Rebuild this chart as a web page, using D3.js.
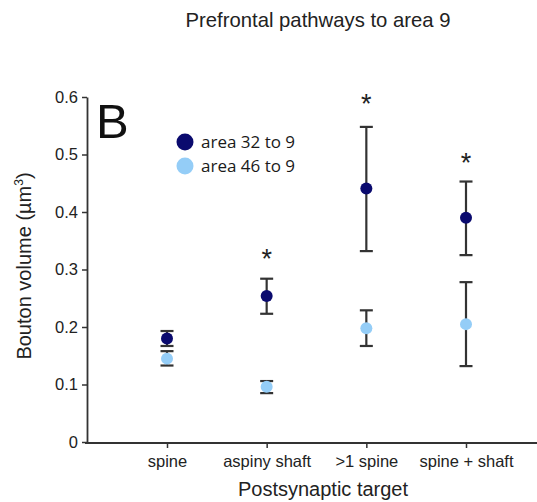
<!DOCTYPE html>
<html><head><meta charset="utf-8">
<script src="https://cdn.jsdelivr.net/npm/d3@7"></script>
<style>body{margin:0;background:#fff}</style>
</head><body>
<svg id="c" width="537" height="502"></svg>
<script>
const categories = ["spine", "aspiny shaft", ">1 spine", "spine + shaft"];
const seriesNames = ["area 32 to 9", "area 46 to 9"];
const mean32 = [0.180, 0.254, 0.441, 0.390];
const lo32   = [0.167, 0.223, 0.332, 0.325];
const hi32   = [0.193, 0.284, 0.548, 0.453];
const mean46 = [0.145, 0.096, 0.198, 0.205];
const lo46   = [0.133, 0.085, 0.167, 0.132];
const hi46   = [0.158, 0.106, 0.229, 0.278];
const starCats = ["aspiny shaft", ">1 spine", "spine + shaft"];
const starVals = [0.329, 0.600, 0.496];
const yTicks = [0, 0.1, 0.2, 0.3, 0.4, 0.5, 0.6];
const colors = ["#0a0a6e", "#94cdf7"];

const FONT = "Liberation Sans, Arial, sans-serif";
const svg = d3.select("#c");
const x = d3.scalePoint().domain(categories).range([167, 466]);
const y = d3.scaleLinear().domain([0, 0.6]).range([442, 97]);
const axisX0 = 87, axisX1 = 537;

// y axis
const ya = svg.append("g").attr("transform", `translate(${axisX0},0)`)
  .call(d3.axisLeft(y).tickValues(yTicks).tickFormat(d => d === 0 ? "0" : d3.format(".1f")(d)).tickSize(5).tickSizeOuter(0));
ya.select(".domain").attr("stroke", "#333").attr("stroke-width", 1.8);
ya.selectAll(".tick line").attr("stroke", "#333").attr("stroke-width", 1.5);
ya.selectAll(".tick text").attr("font-family", FONT).attr("font-size", 16.5).attr("fill", "#222").attr("dx", "-1");

// x axis
const xa = svg.append("g").attr("transform", `translate(0,443)`)
  .call(d3.axisBottom(x).tickSize(5).tickSizeOuter(0));
xa.select(".domain").attr("d", `M${axisX0 - 2},0H${axisX1}`).attr("stroke", "#333").attr("stroke-width", 1.8);
xa.selectAll(".tick line").attr("stroke", "#333").attr("stroke-width", 1.5);
xa.selectAll(".tick text").attr("font-family", FONT).attr("font-size", 16.5).attr("fill", "#222").attr("dy", "0.95em");

// error bars + points
const series = [
  {mean: mean32, lo: lo32, hi: hi32, color: colors[0]},
  {mean: mean46, lo: lo46, hi: hi46, color: colors[1]}
];
series.forEach(s => {
  const g = svg.append("g");
  categories.forEach((c, i) => {
    const cx = x(c);
    g.append("line").attr("x1", cx).attr("x2", cx).attr("y1", y(s.lo[i])).attr("y2", y(s.hi[i])).attr("stroke", "#333").attr("stroke-width", 2.2);
    [s.lo[i], s.hi[i]].forEach(v => g.append("line").attr("x1", cx - 6.5).attr("x2", cx + 6.5).attr("y1", y(v)).attr("y2", y(v)).attr("stroke", "#333").attr("stroke-width", 2.2));
  });
});
series.forEach(s => {
  svg.append("g").selectAll("circle").data(categories).join("circle")
    .attr("cx", c => x(c)).attr("cy", (c, i) => y(s.mean[i])).attr("r", 6).attr("fill", s.color);
});

// stars
const starFs = 27;
svg.append("g").selectAll("text").data(starCats).join("text")
  .attr("x", c => x(c)).attr("y", (c, i) => y(starVals[i]) + 0.58 * starFs)
  .attr("text-anchor", "middle").attr("font-family", FONT).attr("font-size", starFs).attr("fill", "#222")
  .text("*");

// legend
const lg = svg.append("g");
seriesNames.forEach((n, i) => {
  lg.append("circle").attr("cx", 185).attr("cy", 142 + i * 24).attr("r", 8.5).attr("fill", colors[i]);
  lg.append("text").attr("x", 201).attr("y", 142 + i * 24).attr("dy", "0.36em")
    .attr("font-family", "Open Sans, sans-serif").attr("font-size", 17).attr("fill", "#1a1a1a").text(n);
});

// panel letter
svg.append("text").attr("x", 96).attr("y", 138).attr("font-family", FONT).attr("font-size", 49).attr("fill", "#111").text("B");

// title
svg.append("text").attr("x", 318).attr("y", 27).attr("text-anchor", "middle").attr("font-family", FONT).attr("font-size", 20.3).attr("fill", "#222").text("Prefrontal pathways to area 9");

// axis titles
svg.append("text").attr("x", 323).attr("y", 496).attr("text-anchor", "middle").attr("font-family", FONT).attr("font-size", 20).attr("fill", "#222").text("Postsynaptic target");
const yl = svg.append("text").attr("transform", "translate(31,266) rotate(-90)").attr("text-anchor", "middle").attr("font-family", FONT).attr("font-size", 20).attr("fill", "#222");
yl.append("tspan").text("Bouton volume (µm");
yl.append("tspan").attr("font-size", 12).attr("dy", -8).text("3");
yl.append("tspan").attr("dy", 8).text(")");
</script>
</body></html>
